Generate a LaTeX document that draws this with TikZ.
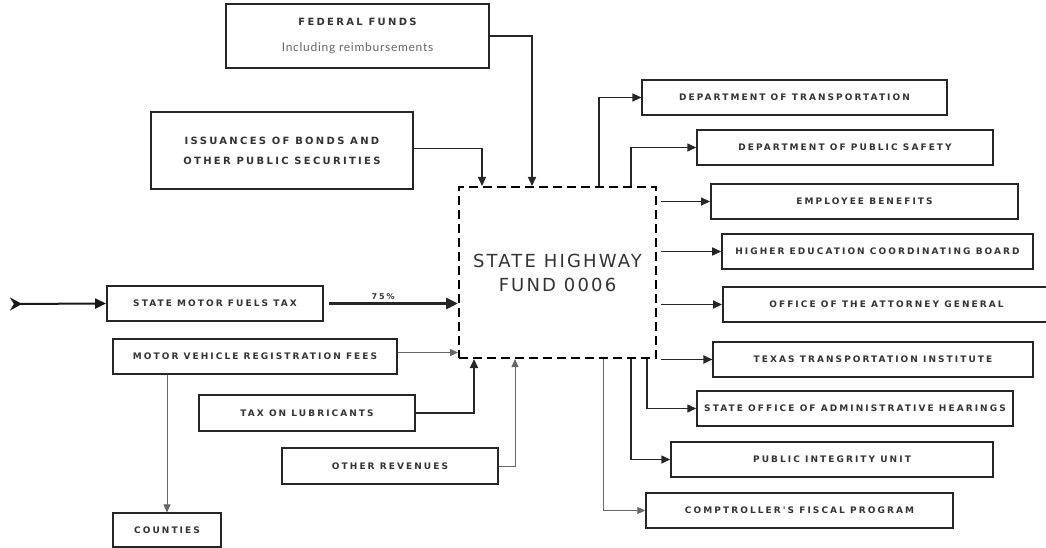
\documentclass[tikz,border=0pt]{standalone}
\usepackage{fontspec}
\usetikzlibrary{arrows.meta,positioning,calc}
\newfontfamily\capfont{DejaVu Sans}[LetterSpace=23]
\newfontfamily\fundfont{DejaVu Sans}[LetterSpace=12]
\newfontfamily\notefont{Lato}[LetterSpace=6]
\tikzset{
  dims/.style 2 args={minimum width=#1pt, minimum height=#2pt},
  srcbox/.style={draw=black!85, line width=1.1pt, fill=white, align=center, inner sep=0pt,
    text=black!80, font=\capfont\bfseries\fontsize{9}{12}\selectfont},
  heavybox/.style={srcbox, line width=1.9pt},
  fundbox/.style={draw=black, line width=2pt, dash pattern=on 9pt off 5pt, align=center,
    inner sep=0pt, text=black!80, font=\fundfont\fontsize{18}{24}\selectfont},
  flow/.style={draw=black!85, line width=1.2pt, -{Triangle[length=9pt,width=8pt]}},
  thinflow/.style={draw=black!60, line width=0.8pt, -{Triangle[length=8pt,width=7pt]}},
  feed/.style={draw=black!90, line width=2pt,
    {Stealth[reversed,length=12pt,width=13pt]}-{Triangle[length=11pt,width=10pt]}},
  pctlabel/.style={font=\capfont\bfseries\fontsize{8}{8}\selectfont, text=black!80, inner sep=2pt}
}

\begin{document}
\begin{tikzpicture}[x=1pt,y=-1pt]
  \clip (0,0) rectangle (1046,548);

  % sources
  \node[srcbox, line width=1.5pt, dims={263}{64}, font=\capfont\bfseries\fontsize{10}{12}\selectfont] (fed) at (357.5,36)
    {FEDERAL FUNDS\\[14pt]{\notefont\mdseries\fontsize{12}{12}\selectfont\color{black!60}Including reimbursements}};
  \node[srcbox, dims={262}{77}, font=\capfont\bfseries\fontsize{10}{20}\selectfont] (bonds) at (282,150.5)
    {ISSUANCES OF BONDS AND\\OTHER PUBLIC SECURITIES};
  \node[heavybox, dims={216}{35}] (fuel) at (215,303.5) {STATE MOTOR FUELS TAX};
  \node[srcbox, dims={284}{35}] (mvrf) at (255,356.5) {MOTOR VEHICLE REGISTRATION FEES};
  \node[srcbox, dims={108}{34}] (counties) at (167,530) {COUNTIES};
  \node[srcbox, line width=1.5pt, dims={216}{36}] (lube) at (307,413) {TAX ON LUBRICANTS};
  \node[srcbox, dims={216}{36}] (other) at (390,466) {OTHER REVENUES};
  \coordinate (feedin) at (10,304);

  % fund
  \node[fundbox, dims={197}{171}] (fund) at (557.5,272.5) {STATE HIGHWAY\\FUND 0006};
  \coordinate (fundR) at ([xshift=4pt]fund.east);

  % recipients
  \node[srcbox, dims={305}{35}] (dot) at (794.5,97.5) {DEPARTMENT OF TRANSPORTATION};
  \node[srcbox, line width=1.5pt, dims={296}{35}] (dps) at (845,147.5) {DEPARTMENT OF PUBLIC SAFETY};
  \node[heavybox, dims={307}{35}] (emp) at (864.5,201.5) {EMPLOYEE BENEFITS};
  \node[srcbox, line width=1.6pt, dims={311}{35}] (heb) at (877.5,251.5) {HIGHER EDUCATION COORDINATING BOARD};
  \node[heavybox, dims={327}{35}] (oag) at (886.5,304.5) {OFFICE OF THE ATTORNEY GENERAL};
  \node[srcbox, dims={320}{35}] (tti) at (873,359.5) {TEXAS TRANSPORTATION INSTITUTE};
  \node[srcbox, line width=1.5pt, dims={316}{35}] (soah) at (855,408.5) {STATE OFFICE OF ADMINISTRATIVE HEARINGS};
  \node[srcbox, line width=1.5pt, dims={322}{35}] (piu) at (832,459.5) {PUBLIC INTEGRITY UNIT};
  \node[srcbox, line width=1.5pt, dims={307}{35}] (cfp) at (799.5,510.5) {COMPTROLLER'S FISCAL PROGRAM};

  % into the fund
  \draw[flow, line width=1.5pt] (fed.east) -| ([xshift=74pt]fund.north west);
  \draw[flow] ([yshift=2pt]bonds.east) -| ([xshift=24pt]fund.north west);
  \draw[feed] (feedin) -- (fuel.west);
  \draw[flow, line width=3pt, -{Triangle[length=12pt,width=11pt]}] ([xshift=5pt]fuel.east)
    -- node[pctlabel, above, pos=0.42] {75\%} (fund.west |- fuel.east);
  \coordinate (mvrfout) at ([yshift=4pt]mvrf.east);
  \draw[thinflow] (mvrfout) -- (fund.west |- mvrfout);
  \draw[thinflow] (mvrf.south -| counties) -- (counties.north);
  \draw[flow, line width=1.8pt] (lube.east) -| ([xshift=16pt]fund.south west);
  \draw[thinflow] (other.east) -| ([xshift=57pt]fund.south west);

  % out of the fund
  \draw[flow] ([xshift=141pt]fund.north west) |- (dot.west);
  \draw[flow, line width=1.5pt] ([xshift=173pt]fund.north west) |- (dps.west);
  \foreach \n/\w in {emp/0.8, heb/1.6, oag/1.6, tti/1.8}
    \draw[flow, line width=\w pt] (fundR |- \n.west) -- (\n.west);
  \draw[flow, line width=1.5pt] ([xshift=189pt]fund.south west) |- (soah.west);
  \draw[flow, line width=1.5pt] ([xshift=173pt]fund.south west) |- (piu.west);
  \draw[thinflow] ([xshift=145pt]fund.south west) |- (cfp.west);
\end{tikzpicture}
\end{document}
